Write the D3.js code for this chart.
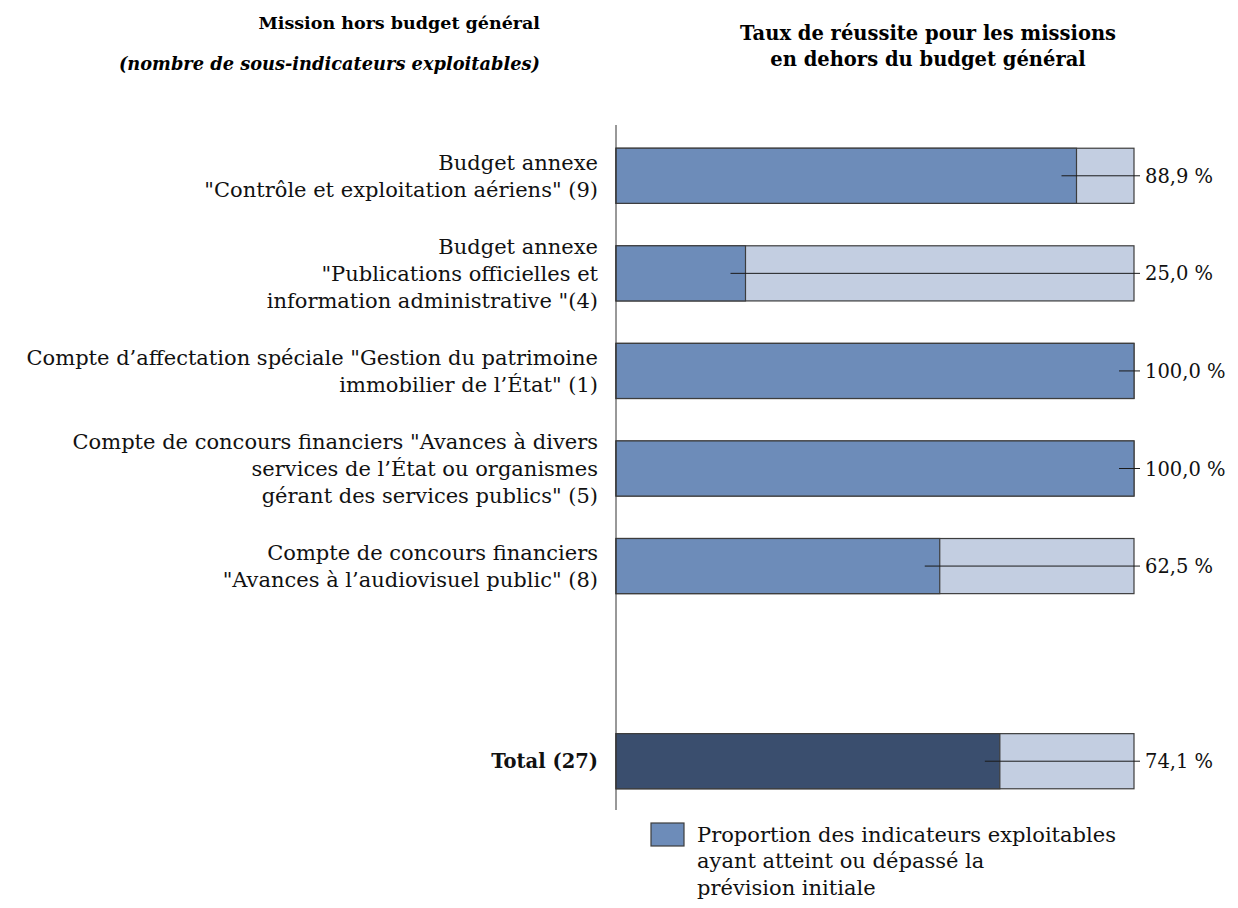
<!DOCTYPE html>
<html><head><meta charset="utf-8">
<script src="https://cdn.jsdelivr.net/npm/d3@7"></script>
<style>
body{margin:0;background:#fff;}
svg{display:block;}
</style></head>
<body><svg id="c" width="1238" height="908"></svg>
<script>
// ---- data ----
const categories = [
  ["Budget annexe", "\"Contrôle et exploitation aériens\" (9)"],
  ["Budget annexe", "\"Publications officielles et", "information administrative \"(4)"],
  ["Compte d’affectation spéciale \"Gestion du patrimoine", "immobilier de l’État\" (1)"],
  ["Compte de concours financiers \"Avances à divers", "services de l’État ou organismes", "gérant des services publics\" (5)"],
  ["Compte de concours financiers", "\"Avances à l’audiovisuel public\" (8)"],
  [],
  ["Total (27)"]
];
const slots = ["c1","c2","c3","c4","c5","gap","total"];
const values = [88.9, 25.0, 100.0, 100.0, 62.5, null, 74.1];
const valueLabels = ["88,9 %", "25,0 %", "100,0 %", "100,0 %", "62,5 %", "", "74,1 %"];
const leftTitle = ["Mission hors budget général", "(nombre de sous-indicateurs exploitables)"];
const rightTitle = ["Taux de réussite pour les missions", "en dehors du budget général"];
const legendLines = ["Proportion des indicateurs exploitables", "ayant atteint ou dépassé la", "prévision initiale"];

// ---- drawing ----
const FONT = "'DejaVu Serif', 'Liberation Serif', serif";
const svg = d3.select("#c");
const x = d3.scaleLinear().domain([0, 100]).range([616, 1134]);
const y = d3.scaleBand().domain(slots).range([127, 810]).paddingInner(0.435).paddingOuter(0.2175);

const mainCol = "#6d8cb9", lightCol = "#c3cee1", totalCol = "#3a4e6e", strokeCol = "#3d3d3d";

// titles
svg.append("text").attr("x", 540).attr("y", 29).attr("text-anchor", "end")
  .attr("font-family", FONT).attr("font-weight", "bold").attr("font-size", 17.5).text(leftTitle[0]);
svg.append("text").attr("x", 540).attr("y", 70).attr("text-anchor", "end")
  .attr("font-family", FONT).attr("font-weight", "bold").attr("font-style", "italic").attr("font-size", 17.8).text(leftTitle[1]);
rightTitle.forEach((t, i) => {
  svg.append("text").attr("x", 928).attr("y", 40 + i * 26).attr("text-anchor", "middle")
    .attr("font-family", FONT).attr("font-weight", "bold").attr("font-size", 19.5).text(t);
});

const rows = slots.map((s, i) => ({slot: s, lines: categories[i], v: values[i], lab: valueLabels[i]})).filter(d => d.v !== null);

const g = svg.append("g");
// background (100%) bars
g.selectAll("rect.bg").data(rows).join("rect").attr("class", "bg")
  .attr("x", x(0)).attr("width", x(100) - x(0))
  .attr("y", d => y(d.slot)).attr("height", y.bandwidth())
  .attr("fill", lightCol).attr("stroke", strokeCol).attr("stroke-width", 1.2);
// value bars
g.selectAll("rect.val").data(rows).join("rect").attr("class", "val")
  .attr("x", x(0)).attr("width", d => x(d.v) - x(0))
  .attr("y", d => y(d.slot)).attr("height", y.bandwidth())
  .attr("fill", d => d.slot === "total" ? totalCol : mainCol).attr("stroke", strokeCol).attr("stroke-width", 1.2);
// leader lines
g.selectAll("line.lead").data(rows).join("line").attr("class", "lead")
  .attr("x1", d => x(d.v) - 15).attr("x2", x(100) + 6)
  .attr("y1", d => y(d.slot) + y.bandwidth() / 2).attr("y2", d => y(d.slot) + y.bandwidth() / 2)
  .attr("stroke", "#1a1a1a").attr("stroke-width", 1);
// value labels
g.selectAll("text.val").data(rows).join("text").attr("class", "val")
  .attr("x", x(100) + 11).attr("y", d => y(d.slot) + y.bandwidth() / 2).attr("dy", "0.36em")
  .attr("font-family", FONT).attr("font-size", 19.5).attr("fill", "#111").text(d => d.lab);

// axis line
svg.append("line").attr("x1", x(0)).attr("x2", x(0)).attr("y1", 125).attr("y2", 810)
  .attr("stroke", "#333").attr("stroke-width", 1);

// category labels
const lh = 27;
rows.forEach(d => {
  const cy = y(d.slot) + y.bandwidth() / 2;
  const n = d.lines.length;
  d.lines.forEach((t, i) => {
    svg.append("text").attr("x", 598).attr("y", cy + (i - (n - 1) / 2) * lh).attr("dy", "0.36em")
      .attr("text-anchor", "end").attr("font-family", FONT).attr("font-size", d.slot === "total" ? 19.5 : 21)
      .attr("font-weight", d.slot === "total" ? "bold" : "normal").attr("fill", "#111").text(t);
  });
});

// legend
svg.append("rect").attr("x", 651).attr("y", 823).attr("width", 33).attr("height", 23)
  .attr("fill", mainCol).attr("stroke", strokeCol).attr("stroke-width", 1.2);
legendLines.forEach((t, i) => {
  svg.append("text").attr("x", 697).attr("y", 834 + i * 26.5).attr("dy", "0.36em")
    .attr("font-family", FONT).attr("font-size", 21).attr("fill", "#111").text(t);
});
</script></body></html>
